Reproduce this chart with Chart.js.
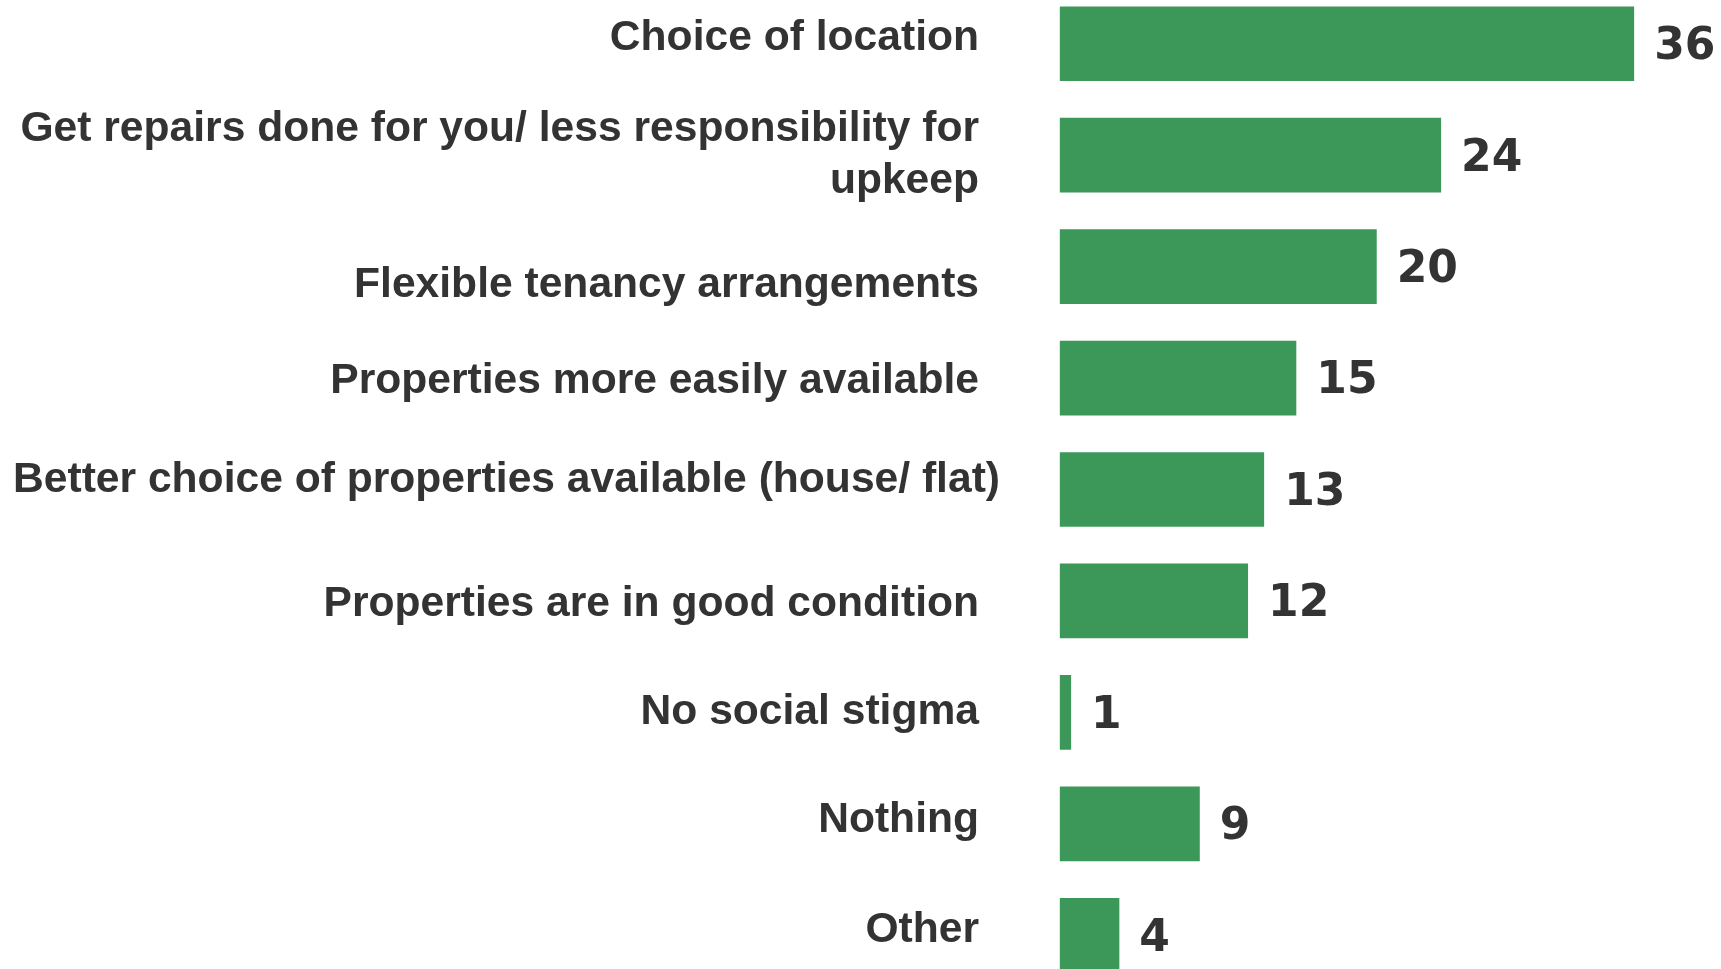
<!DOCTYPE html>
<html>
<head>
<meta charset="utf-8">
<script src="https://cdn.jsdelivr.net/npm/chart.js@4"></script>
<style>
  html, body { margin: 0; padding: 0; background: #fff; overflow: hidden; }
  #wrap { position: absolute; left: 0; top: -12px; width: 1721px; height: 1003px; }
</style>
</head>
<body>
<div id="wrap"><canvas id="chart"></canvas></div>
<script>
// categories, top to bottom
const categories = [
    ['Choice of location'],
    ['Get repairs done for you/ less responsibility for', 'upkeep'],
    ['Flexible tenancy arrangements'],
    ['Properties more easily available'],
    ['Better choice of properties available (house/ flat)'],
    ['Properties are in good condition'],
    ['No social stigma'],
    ['Nothing'],
    ['Other']
];
const values = [36, 24, 20, 15, 13, 12, 1, 9, 4];

// small nudges of the label text, as in the original slide
const labelNudgeY = [-5, 0, 19, 3, -9, 3, 0, -4, -5];
const labelNudgeX = [0, 0, 0, 0, 21, 0, 0, 0, 0];

const green = '#3c9858';
const textColor = '#333333';

//draws the category labels and the value labels
const labelPlugin = {
    id: 'labels',
    afterDatasetsDraw(chart) {
        const ctx = chart.ctx;
        const yScale = chart.scales.y;
        const meta = chart.getDatasetMeta(0);

        ctx.save();
        ctx.fillStyle = textColor;
        ctx.textBaseline = 'middle';

        // category labels, right aligned left of the bars
        ctx.font = 'bold 42.6px "Liberation Sans", Arial, sans-serif';
        ctx.textAlign = 'right';
        const right = chart.chartArea.left - 76;
        categories.forEach(function(lines, i) {
            const cy = yScale.getPixelForValue(i) + labelNudgeY[i];
            const lh = 51.6;
            const startY = cy - (lines.length - 1) * lh / 2;
            lines.forEach(function(line, j) {
                ctx.fillText(line, right + labelNudgeX[i], startY + j * lh);
            });
        });

        // value labels at the end of each bar
        ctx.font = 'bold 44px "DejaVu Sans", sans-serif';
        ctx.textAlign = 'left';
        meta.data.forEach(function(bar, i) {
            ctx.fillText(String(values[i]), bar.x + 20, bar.y + 4);
        });
        ctx.restore();
    }
};

new Chart(document.getElementById('chart'), {
    type: 'bar',
    data: {
        labels: categories.map(function(l) { return l.join(' '); }),
        datasets: [{
            data: values,
            base: 0.3,
            backgroundColor: green,
            borderWidth: 0,
            barPercentage: 0.67,
            categoryPercentage: 1
        }]
    },
    options: {
        indexAxis: 'y',
        responsive: true,
        maintainAspectRatio: false,
        animation: false,
        layout: { padding: 0 },
        plugins: {
            legend: { display: false },
            tooltip: { enabled: false }
        },
        scales: {
            x: {
                display: false,
                min: 0,
                max: 41.4
            },
            y: {
                offset: true,
                grid: { display: false },
                border: { display: false },
                ticks: { display: false },
                afterFit: function(scale) { scale.width = 1055; }
            }
        }
    },
    plugins: [labelPlugin]
});
</script>
</body>
</html>
